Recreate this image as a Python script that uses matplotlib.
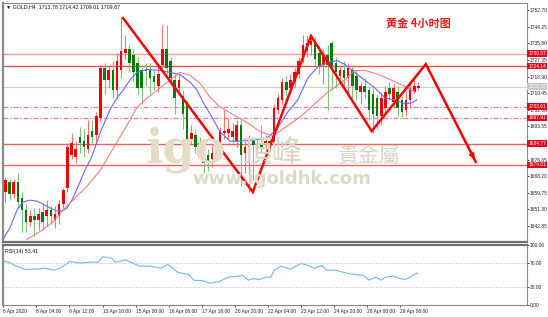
import numpy as np
import matplotlib
matplotlib.use("Agg")
import matplotlib.pyplot as plt
from matplotlib.transforms import blended_transform_factory

# H4 candles, GOLD, 6 Apr - 29 Apr 2020
opens = [1660, 1665, 1659, 1665, 1657, 1651, 1645, 1648, 1646, 1650, 1648, 1651, 1646, 1648, 1654,
         1662, 1679, 1678, 1688, 1686, 1682, 1691, 1689, 1698, 1723, 1717, 1722, 1712, 1722, 1731,
         1733, 1730, 1726, 1722, 1722, 1722, 1719, 1714, 1725, 1733, 1727, 1717, 1713, 1709, 1705,
         1687, 1689, 1685, 1680, 1679, 1677, 1680, 1683, 1690, 1690, 1688, 1686, 1694, 1680, 1683,
         1686, 1685, 1685, 1684, 1686, 1685, 1702, 1707, 1716, 1713, 1716, 1720, 1729, 1732, 1735,
         1736, 1731, 1725, 1730, 1736, 1726, 1719, 1722, 1718, 1722, 1719, 1711, 1714, 1712, 1710,
         1708, 1699, 1703, 1713, 1706, 1711, 1707, 1702, 1707, 1711, 1713.2]
highs = [1668, 1667, 1667, 1670, 1660, 1654, 1651, 1652, 1652, 1654, 1656, 1653, 1653, 1656, 1662,
         1685, 1690, 1686, 1693, 1692, 1697, 1697, 1701, 1725, 1726, 1725, 1727, 1731, 1749, 1740,
         1735, 1733, 1729, 1725, 1726, 1726, 1722, 1724, 1745, 1745, 1729, 1720, 1720, 1712, 1707,
         1694, 1692, 1688, 1683, 1682, 1684, 1686, 1693, 1702, 1698, 1695, 1697, 1697, 1686, 1689,
         1688, 1687, 1694, 1689, 1688, 1705, 1710, 1718, 1719, 1720, 1723, 1729, 1740, 1740, 1740,
         1739, 1735, 1733, 1735, 1737, 1729, 1724, 1727, 1726, 1725, 1722, 1716, 1718, 1714, 1713,
         1710, 1711, 1714, 1716, 1715, 1714, 1709, 1711, 1716, 1718, 1716]
lows = [1655, 1656, 1657, 1652, 1640, 1640, 1643, 1638, 1641, 1641, 1643, 1644, 1642, 1644, 1652,
        1660, 1677, 1675, 1680, 1678, 1680, 1685, 1686, 1696, 1710, 1713, 1708, 1708, 1718, 1728,
        1721, 1716, 1710, 1705, 1714, 1710, 1712, 1711, 1723, 1720, 1714, 1700, 1710, 1692, 1683,
        1684, 1680, 1678, 1670, 1671, 1673, 1676, 1681, 1687, 1687, 1685, 1683, 1663, 1670, 1660,
        1666, 1681, 1680, 1681, 1681, 1683, 1700, 1705, 1709, 1710, 1713, 1718, 1726, 1729, 1730,
        1724, 1720, 1715, 1702, 1712, 1713, 1715, 1712, 1709, 1708, 1707, 1705, 1708, 1697, 1690,
        1692, 1694, 1700, 1707, 1703, 1699, 1698, 1699, 1703, 1710, 1712]
closes = [1666, 1659, 1665, 1655, 1651, 1645, 1648, 1646, 1649, 1645, 1651, 1648, 1649, 1654, 1661,
          1683, 1685, 1682, 1685, 1683, 1689, 1688, 1699, 1723, 1717, 1722, 1712, 1727, 1732, 1733,
          1726, 1721, 1713, 1713, 1721.5, 1718, 1716, 1720, 1733, 1723, 1718, 1708, 1717, 1700, 1686,
          1690, 1683, 1682, 1675, 1675, 1680, 1683, 1691, 1691, 1692, 1691, 1694, 1679, 1683, 1685,
          1684, 1684, 1683, 1686, 1684, 1703, 1708, 1716, 1712, 1717, 1721, 1727, 1735, 1736, 1737,
          1728, 1724, 1730, 1725, 1724, 1721, 1722, 1718, 1723, 1714, 1712, 1714, 1711, 1702, 1700,
          1699, 1708, 1711, 1710, 1713, 1703, 1701, 1707, 1713, 1714, 1713.9]

# moving averages (bar index, price)
ma_fast_x = [-0.6, 1.1, 2.8, 4.2, 5.9, 7.6, 9.1, 10.8, 12.5, 13.7, 14.9, 16.1, 17.6, 19.2, 20.9,
             22.9, 25.3, 27.0, 28.5, 30.1, 31.8, 34.3, 37.4, 39.8, 42.2, 44.7, 46.4, 47.8, 49.5,
             51.9, 54.4, 56.8, 59.9, 63.3, 65.7, 68.4, 70.8, 73.2, 75.7, 78.1, 80.3, 82.2, 84.6,
             87.0, 89.5, 91.9, 94.3, 96.7, 98.4, 99.6]
ma_fast_y = [1636, 1642, 1651, 1655, 1656, 1655.5, 1654, 1652, 1650.5, 1650.5, 1652, 1656, 1663,
             1671, 1678, 1690, 1702, 1708, 1712, 1717, 1721, 1722.5, 1722, 1721, 1720, 1716, 1712,
             1706, 1700, 1691, 1686, 1686, 1686.5, 1687.5, 1692, 1701, 1707, 1718, 1724, 1726, 1727,
             1725, 1721, 1717, 1713, 1708, 1707, 1705, 1705.5, 1707]
ma_slow_x = [5.2, 9.1, 11.5, 14.9, 19.7, 22.9, 26.0, 29.4, 31.8, 34.3, 37.4, 39.8, 42.2, 44.7,
             47.1, 49.5, 51.9, 55.1, 58.5, 61.6, 64.8, 68.4, 71.8, 74.9, 78.1, 81.5, 84.6, 87.0,
             89.5, 91.9, 95.1, 97.5, 99.2]
ma_slow_y = [1636, 1641, 1645, 1653, 1663, 1671, 1682, 1694, 1703, 1708, 1713, 1717, 1721, 1719.5,
             1715.5, 1708.5, 1703.5, 1699.5, 1695.5, 1691, 1688.5, 1694, 1699, 1705, 1711, 1716,
             1722, 1722, 1720.5, 1718.5, 1715.5, 1713, 1711]

# RSI(14)
rsi_x = [-0.5, 1.2, 2.5, 4.6, 7.1, 9.7, 11.8, 13.5, 15.6, 18.1, 20.7, 22.4, 23.6, 25.8, 26.6,
         29.1, 32.5, 35.1, 37.6, 39.3, 41.8, 44.4, 45.6, 47.8, 49.5, 51.6, 54.1, 56.2, 57.5, 58.8,
         60.0, 61.3, 63.4, 64.3, 65.1, 66.8, 68.9, 71.5, 72.8, 74.9, 76.6, 77.8, 80.0, 83.3, 86.7,
         88.0, 89.7, 90.9, 92.2, 93.9, 95.6, 96.9, 98.6, 99.8]
rsi_v = [73.6, 70, 64.8, 59.6, 59.6, 61.2, 58, 62.2, 72.6, 70, 71.6, 71, 80.4, 77.8, 71, 75.2,
         64.8, 64.8, 61.2, 67.4, 54.4, 50.8, 41.4, 40.4, 36.2, 38.8, 46.6, 47.7, 49.2, 41.4, 44,
         42.5, 46.6, 46.6, 58, 64.8, 59.6, 69, 67.4, 61.2, 65.8, 58, 58, 51.8, 49.2, 41.4, 46.6,
         41.4, 46.6, 48.2, 44, 42.5, 49.2, 53.41]

# support / resistance levels
solid_levels = [1730.57, 1724.14, 1684.77, 1674.01]
dashed_levels = [1703.61, 1697.91]
current_price = 1713.78

# hand-drawn zigzag projection
zz_x = [28.5, 59.9, 74.0, 88.7, 101.8, 113.9]
zz_y = [1748.6, 1660.1, 1739.5, 1691.1, 1725.2, 1675.4]

price_ticks = [1752.70, 1744.25, 1735.80, 1727.35, 1718.90, 1710.45, 1702.00, 1693.55,
               1685.10, 1676.65, 1668.20, 1659.75, 1651.30, 1642.85]
time_pos = [-0.6, 7.5, 15.5, 23.5, 31.5, 39.5, 47.5, 55.5, 63.5, 71.5, 79.5, 87.5, 95.5]
time_labels = ["6 Apr 2020", "8 Apr 04:00", "9 Apr 12:00", "13 Apr 16:00", "15 Apr 00:00",
               "16 Apr 08:00", "17 Apr 16:00", "20 Apr 20:00", "22 Apr 04:00", "23 Apr 12:00",
               "24 Apr 20:00", "28 Apr 00:00", "29 Apr 08:00"]

W, H = 548, 317
fs = 3.5
plt.rcParams["font.family"] = ["Liberation Sans", "DejaVu Sans"]

fig = plt.figure(figsize=(W / 100, H / 100), dpi=100)
ax = fig.add_axes([3 / W, 1 - 242 / H, 524 / W, 239 / H])
ax2 = fig.add_axes([3 / W, 1 - 305 / H, 524 / W, 60 / H])

xlim = (-0.6, 126.3)

# watermark
fig.text(145 / W, 1 - 150 / H, "igo", fontsize=33, color="#e4dcc6", family="DejaVu Serif",
         weight="bold", va="center", ha="left", zorder=0)
fig.text(242 / W, 1 - 153 / H, "頂峰", fontsize=22, color="#dbd3c3", family=["Noto Sans CJK TC"],
         va="center", ha="left", zorder=0)
fig.text(338 / W, 1 - 156 / H, "貴金屬", fontsize=15, color="#dbd3c3", family=["Noto Sans CJK TC"],
         va="center", ha="left", zorder=0)
fig.text(282 / W, 1 - 179 / H, "www.igoldhk.com", fontsize=13, color="#e0d9c8", weight="bold",
         family="DejaVu Sans", va="center", ha="center", zorder=0)
ax.patch.set_alpha(0)
ax2.patch.set_alpha(0)

# level lines
for lvl, col in zip(solid_levels, ["#ff9a9a", "#f05050", "#f06060", "#f06060"]):
    ax.axhline(lvl, color=col, lw=1.0, zorder=1)
for lvl in dashed_levels:
    ax.axhline(lvl, color="#e87aa0", lw=0.9, ls=(0, (4, 1.5, 1, 1.5)), zorder=1)
ax.axhline(current_price, color="#cfcfcf", lw=0.8, zorder=1)

# candles
o = np.array(opens); h = np.array(highs); l = np.array(lows); c = np.array(closes)
idx = np.arange(len(o))
up = c >= o
body_col = np.where(up, "#f20000", "#0b7a0b")
wick_col = np.where(up, "#ff7070", "#7cc27c")
ax.vlines(idx, l, h, colors=wick_col, lw=0.8, zorder=2)
bottoms = np.minimum(o, c)
heights = np.maximum(np.abs(c - o), 0.5)
ax.bar(idx, heights, bottom=bottoms, width=0.62, color=body_col, lw=0, zorder=3)

# moving averages
ax.plot(ma_fast_x, ma_fast_y, color="#6a6af0", lw=0.8, zorder=4)
ax.plot(ma_slow_x, ma_slow_y, color="#f08080", lw=0.8, zorder=4)

# zigzag with arrow
ax.plot(zz_x, zz_y, color="#ff0000", lw=1.8, solid_joinstyle="miter", zorder=5)
ax.annotate("", xy=(zz_x[-1], zz_y[-1]),
            xytext=(zz_x[-1] - 0.15 * (zz_x[-1] - zz_x[-2]), zz_y[-1] - 0.15 * (zz_y[-1] - zz_y[-2])),
            arrowprops=dict(arrowstyle="-|>", color="#ff0000", lw=1.5, mutation_scale=7), zorder=5)

ax.set_xlim(*xlim)
ax.set_ylim(1634.7, 1756.3)
ax.set_xticks([])
ax.yaxis.tick_right()
ax.set_yticks(price_ticks)
ax.set_yticklabels([f"{p:.2f}" for p in price_ticks], fontsize=fs)
ax.tick_params(axis="y", length=1.3, width=0.6, pad=0.4, colors="#222222")

trans = blended_transform_factory(ax.transAxes, ax.transData)
for lvl in solid_levels + dashed_levels:
    ax.text(1.0022, lvl, f"{lvl:.2f}", transform=trans, fontsize=fs, color="white",
            va="center", ha="left", zorder=10, clip_on=False,
            bbox=dict(boxstyle="square,pad=0.15", fc="#e3061f", ec="none"))
ax.text(1.0022, current_price, f"{current_price:.2f}", transform=trans, fontsize=fs,
        color="white", va="center", ha="left", zorder=10, clip_on=False,
        bbox=dict(boxstyle="square,pad=0.15", fc="#c8c8c8", ec="none"))

# RSI panel
ax2.plot(rsi_x, rsi_v, color="#70b8f5", lw=0.8)
for lvl in (70, 30):
    ax2.axhline(lvl, color="#c0c0c0", lw=0.6, ls=(0, (1.5, 1.5)))
ax2.set_xlim(*xlim)
ax2.set_ylim(0, 100)
ax2.yaxis.tick_right()
ax2.set_yticks([0, 30, 70, 100])
ax2.set_yticklabels(["0.00", "30.00", "70.00", "100.00"], fontsize=fs)
ax2.tick_params(axis="y", length=1.3, width=0.6, pad=0.4, colors="#222222")
ax2.set_xticks(time_pos)
ax2.set_xticklabels(time_labels, fontsize=fs, ha="left")
ax2.tick_params(axis="x", length=1.5, width=0.6, pad=1.5, colors="#222222")

for a in (ax, ax2):
    for s in a.spines.values():
        s.set_color("#8a8a8a")
        s.set_linewidth(0.8)
    a.spines["left"].set_linewidth(1.6)
ax.spines["bottom"].set_linewidth(1.6)
ax.spines["bottom"].set_color("#707070")
ax2.spines["top"].set_linewidth(1.6)
ax2.spines["top"].set_color("#707070")

# texts
fig.text(6 / W, 1 - 7 / H, "▼ GOLD,H4  1713.78 1714.42 1709.01 1709.87", fontsize=fs + 0.3,
         va="center", ha="left", color="#111111")
fig.text(5 / W, 1 - 251 / H, "RSI(14) 53.41", fontsize=fs + 0.3, va="center", ha="left",
         color="#111111")
fig.text(386 / W, 1 - 23 / H, "黄金 4小时图", fontsize=8, color="#e81e1e",
         family=["Noto Sans CJK SC"], weight="bold", va="center", ha="left")

fig.savefig("out.png", dpi=100, facecolor="white")
